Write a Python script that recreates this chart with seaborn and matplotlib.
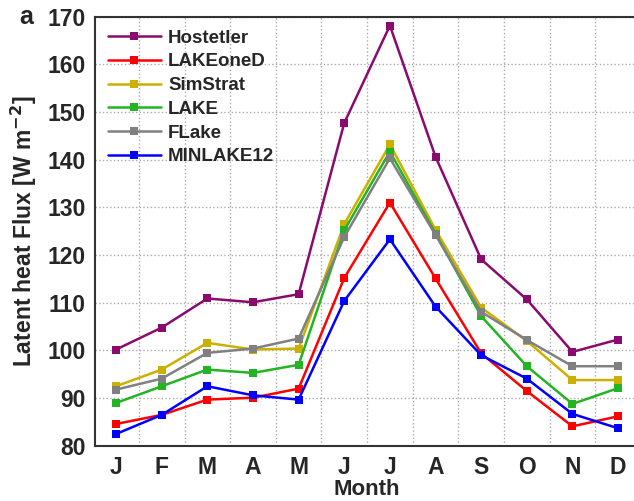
import numpy as np
import pandas as pd
import seaborn as sns
import matplotlib.pyplot as plt

months = ['J', 'F', 'M', 'A', 'M', 'J', 'J', 'A', 'S', 'O', 'N', 'D']
month_num = list(range(1, 13))

hostetler = [100.2, 104.8, 110.9, 110.1, 111.8, 147.7, 168.1, 140.6, 119.1, 110.7, 99.7, 102.3]
lakeoned = [84.6, 86.5, 89.7, 90.1, 92.0, 115.2, 131.0, 115.1, 99.4, 91.5, 84.1, 86.2]
simstrat = [92.5, 96.0, 101.6, 100.2, 100.4, 126.5, 143.2, 125.3, 109.0, 102.0, 93.8, 93.8]
lake = [89.0, 92.5, 96.0, 95.3, 97.0, 125.2, 141.7, 124.5, 107.2, 96.7, 88.8, 92.1]
flake = [91.8, 94.1, 99.5, 100.4, 102.5, 123.8, 140.3, 124.2, 108.1, 102.2, 96.7, 96.7]
minlake12 = [82.5, 86.5, 92.5, 90.6, 89.7, 110.4, 123.3, 109.2, 99.0, 94.1, 86.7, 83.7]

models = ['Hostetler', 'LAKEoneD', 'SimStrat', 'LAKE', 'FLake', 'MINLAKE12']
series = [hostetler, lakeoned, simstrat, lake, flake, minlake12]
colors = ['#8B0A6E', '#FF0000', '#CCB000', '#22B422', '#808080', '#0000FF']

rows = []
for name, vals in zip(models, series):
    for m, v in zip(month_num, vals):
        rows.append({'Month': m, 'Flux': v, 'Model': name})
df = pd.DataFrame(rows)

sns.set_style('white')
plt.rcParams['font.family'] = ['Liberation Sans', 'DejaVu Sans']
plt.rcParams['font.weight'] = 'bold'

fig = plt.figure(figsize=(6.34, 5.01), dpi=100)
ax = fig.add_axes([0.150, 0.110, 0.858, 0.857])

sns.lineplot(data=df, x='Month', y='Flux', hue='Model', hue_order=models,
             palette=dict(zip(models, colors)), style='Model', markers=['s'] * 6,
             dashes=False, linewidth=1.8, markersize=5.5, markeredgewidth=0,
             ax=ax)

ax.set_xlim(0.54, 12.46)
ax.set_ylim(80, 170)
ax.set_yticks(np.arange(80, 171, 10))
ax.set_xticks(month_num)
ax.set_xticklabels(months)
ax.set_xticks(np.arange(1.5, 12.5, 1), minor=True)
ax.grid(False)
ax.grid(True, which='minor', axis='x', linestyle=':', color='#aaaaaa', linewidth=1)
ax.grid(True, which='major', axis='y', linestyle=':', color='#aaaaaa', linewidth=1)
ax.tick_params(axis='both', which='both', length=0, labelsize=16.5, pad=7)
for lab in ax.get_xticklabels() + ax.get_yticklabels():
    lab.set_fontweight('bold')

for sp in ax.spines.values():
    sp.set_color('#333333')
    sp.set_linewidth(1.5)

ax.set_xlabel('Month', fontsize=16, fontweight='bold', labelpad=0)
ax.set_ylabel('Latent heat Flux [W m$^{\\mathbf{-2}}$]', fontsize=16.5, fontweight='bold', labelpad=6)

leg = ax.legend(loc='upper left', frameon=False, fontsize=13.5, handlelength=2.8,
                borderaxespad=0.3, labelspacing=0.35, handletextpad=0.4,
                borderpad=0.4)
for t in leg.get_texts():
    t.set_fontweight('bold')

fig.text(0.03, 0.952, 'a', fontsize=18, fontweight='bold')

fig.savefig('out.png', dpi=100)
